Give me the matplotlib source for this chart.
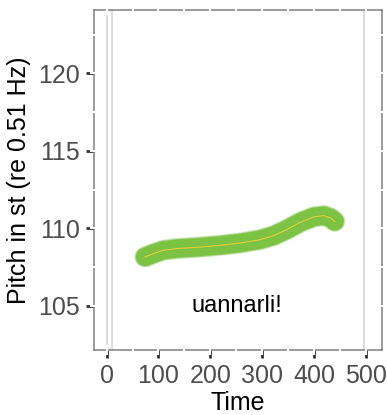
import numpy as np
import matplotlib.pyplot as plt
from matplotlib.colors import to_rgb

plt.rcParams['font.family'] = ['Liberation Sans', 'DejaVu Sans']

# pitch track (time in ms, pitch in semitones re 0.51 Hz)
time = [74, 90, 109, 135, 174, 219, 257, 296, 322, 347, 373, 399, 418, 431, 439]
pitch = [108.15, 108.36, 108.58, 108.69, 108.77, 108.90, 109.05, 109.27,
         109.53, 109.92, 110.39, 110.74, 110.82, 110.67, 110.45]

# segment boundaries
bounds = [0, 10, 496]

word = "uannarli!"
word_x, word_y = 250, 105

xticks = [0, 100, 200, 300, 400, 500]
yticks = [105, 110, 115, 120]
xminor = [50, 150, 250, 350, 450]
yminor = [107.5, 112.5, 117.5, 122.5]

fig = plt.figure(figsize=(3.87, 4.15), dpi=100)
ax = fig.add_axes([0.243, 0.157, 0.744, 0.819])
ax.set_xlim(-24, 530)
ax.set_ylim(102.15, 124.1)

for b in bounds:
    ax.axvline(b, color='#d9d9d9', lw=1.3, zorder=1)

# soft-edged green band
green = np.array(to_rgb('#7cc243'))
white = np.ones(3)
for lw, f in [(15.6, 0.88), (15.0, 0.7), (14.4, 0.5), (13.8, 0.3), (13.2, 0.12), (12.6, 0.0)]:
    ax.plot(time, pitch, color=green * (1 - f) + white * f, lw=lw,
            solid_capstyle='round', solid_joinstyle='round', zorder=2)
ax.plot(time, pitch, color='#e3cf3a', lw=0.8, zorder=3)

ax.text(word_x, word_y, word, ha='center', va='center', fontsize=17, color='black')

ax.set_xticks(xticks)
ax.set_yticks(yticks)
ax.tick_params(axis='both', length=6, width=2, color='#333333', labelsize=18,
               labelcolor='#4d4d4d', pad=4)
ax.set_xlabel('Time', fontsize=18, labelpad=2)
ax.set_ylabel('Pitch in st (re 0.51 Hz)', fontsize=18, labelpad=5)

for s in ax.spines.values():
    s.set_color('#808080')
    s.set_linewidth(1.1)

# white grid breaks across the panel border
for v in xticks + xminor:
    for lo, hi in [(-0.012, 0.012), (0.988, 1.012)]:
        ax.axvline(v, ymin=lo, ymax=hi, color='white', lw=1.4, clip_on=False, zorder=5)
for v in yticks + yminor:
    for lo, hi in [(-0.012, 0.012), (0.988, 1.012)]:
        ax.axhline(v, xmin=lo, xmax=hi, color='white', lw=1.4, clip_on=False, zorder=5)

fig.savefig('out.png', dpi=100)
